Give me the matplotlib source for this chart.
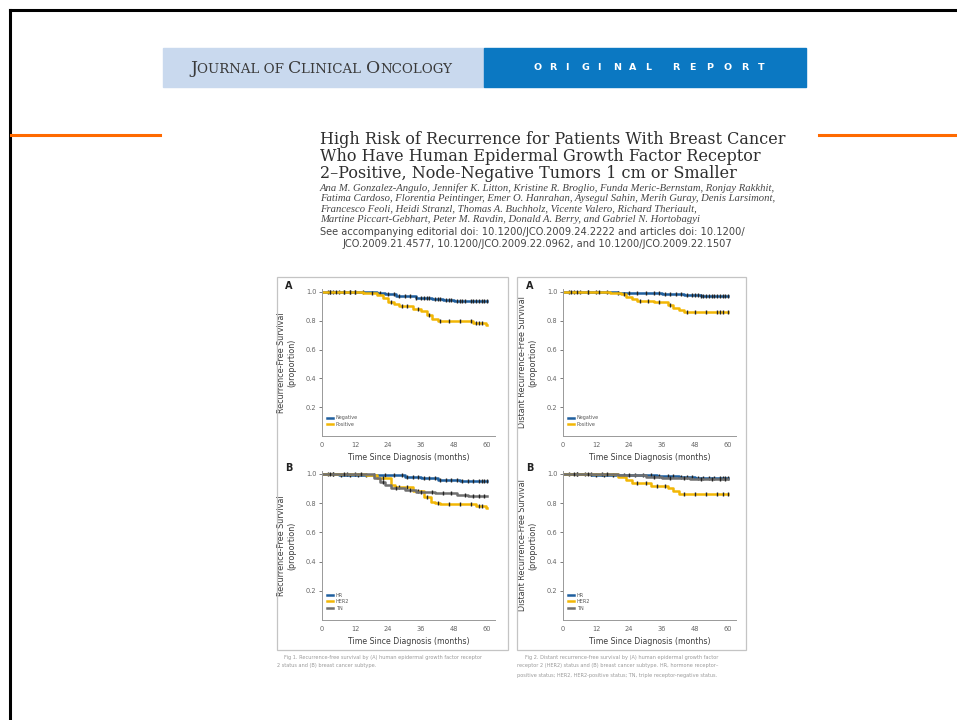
import matplotlib
matplotlib.use('Agg')
import matplotlib.pyplot as plt
import numpy as np
from matplotlib.lines import Line2D
from matplotlib.patches import Rectangle

W, H = 957, 720

# --- Data ---
months_ticks = [0, 12, 24, 36, 48, 60]
surv_ticks = [0.2, 0.4, 0.6, 0.8, 1.0]

# Fig 1A: recurrence-free survival by HER2 status
rfs_neg_t = [0, 20, 23, 27, 31, 34, 36, 40, 44, 48, 53]
rfs_neg_s = [1.0, 0.99, 0.985, 0.975, 0.97, 0.96, 0.955, 0.95, 0.945, 0.94, 0.936]
rfs_neg_c = [2, 3, 4, 6, 8, 10, 12, 15, 21, 24, 26, 28, 30, 32, 34, 36, 37, 38, 39, 41, 42,
             43, 45, 46, 47, 49, 50, 51, 52, 54, 55, 56, 57, 58, 59, 60]
rfs_pos_t = [0, 15, 20, 22, 24, 26, 28, 33, 36, 38, 40, 42, 55, 59.5]
rfs_pos_s = [1.0, 0.99, 0.98, 0.955, 0.93, 0.915, 0.905, 0.88, 0.865, 0.84, 0.815, 0.798, 0.786, 0.772]
rfs_pos_c = [3, 5, 8, 10, 12, 18, 25, 29, 31, 35, 39, 43, 46, 50, 54, 56, 57, 58]

# Fig 2A: distant recurrence-free survival by HER2 status
drfs_neg_t = [0, 20, 28, 36, 44, 50]
drfs_neg_s = [1.0, 0.995, 0.99, 0.985, 0.98, 0.975]
drfs_neg_c = [2, 4, 6, 9, 12, 16, 20, 24, 27, 30, 33, 35, 37, 39, 41, 43, 45, 47, 48, 49,
              50, 51, 52, 53, 54, 55, 56, 57, 58, 59, 60]
drfs_pos_t = [0, 17, 21, 23, 25, 27, 33, 38, 40, 42, 44]
drfs_pos_s = [1.0, 0.995, 0.985, 0.965, 0.95, 0.94, 0.93, 0.91, 0.89, 0.875, 0.862]
drfs_pos_c = [3, 5, 9, 13, 22, 28, 31, 35, 39, 45, 48, 52, 56, 57, 58, 60]

# Fig 1B: recurrence-free survival by subtype
rfs_hr_t = [0, 6, 22, 30, 36, 42, 50]
rfs_hr_s = [1.0, 0.995, 0.99, 0.98, 0.97, 0.96, 0.952]
rfs_hr_c = [2, 4, 7, 10, 13, 16, 19, 23, 26, 29, 31, 33, 35, 37, 39, 41, 43, 45, 47, 49,
            51, 53, 55, 57, 58, 59, 60]
rfs_her2_t = [0, 16, 20, 25, 26.5, 33, 37, 39.5, 41, 43, 56, 59.5]
rfs_her2_s = [1.0, 0.995, 0.97, 0.925, 0.91, 0.885, 0.84, 0.81, 0.80, 0.793, 0.778, 0.768]
rfs_her2_c = [4, 9, 12, 22, 28, 31, 35, 38, 42, 46, 50, 54, 57, 58]
rfs_tn_t = [0, 19, 21, 23, 25, 30, 34, 41, 49, 53]
rfs_tn_s = [1.0, 0.97, 0.945, 0.925, 0.905, 0.89, 0.88, 0.868, 0.858, 0.85]
rfs_tn_c = [3, 8, 14, 22, 27, 32, 36, 40, 44, 47, 52, 55, 57, 59]

# Fig 2B: distant recurrence-free survival by subtype
drfs_hr_t = [0, 10, 24, 34, 42, 48]
drfs_hr_s = [1.0, 0.995, 0.99, 0.983, 0.977, 0.97]
drfs_hr_c = [2, 5, 8, 12, 15, 18, 22, 26, 29, 32, 35, 38, 40, 43, 45, 47, 49, 51, 53, 55,
             57, 58, 59, 60]
drfs_her2_t = [0, 20, 23, 25, 32, 38, 40, 42]
drfs_her2_s = [1.0, 0.982, 0.96, 0.938, 0.92, 0.902, 0.884, 0.864]
drfs_her2_c = [5, 10, 14, 27, 30, 34, 37, 44, 48, 52, 56, 58, 60]
drfs_tn_t = [0, 20, 30, 36, 46]
drfs_tn_s = [1.0, 0.99, 0.982, 0.972, 0.966]
drfs_tn_c = [4, 9, 16, 24, 33, 39, 44, 50, 54, 57, 59]

BLUE = '#1f5f9e'
YELLOW = '#f2b705'
GRAY = '#707070'


def fx(x):
    return x / W


def fy(y):
    return 1 - y / H


def km_panel(fig, left, top_y, bottom_y, curves, labels, letter, ylabel):
    # axes placed by pixel coordinates: x=0 month at `left`, 60 months 165 px right
    px_per_month = 165 / 60
    width = 63 * px_per_month
    h = (bottom_y - top_y) * 1.02
    ax = fig.add_axes([fx(left), fy(bottom_y), width / W, h / H])
    for (t, s, c, col), lab in zip(curves, labels):
        ax.step(t + [60], s + [s[-1]], where='post', color=col, lw=1.8, label=lab)
        idx = np.searchsorted(t, c, side='right') - 1
        ax.plot(c, np.array(s)[idx], ls='none', marker='|', ms=3, mew=1.0, color='#222222')
    ax.set_xlim(0, 63)
    ax.set_ylim(0, 1.02)
    ax.set_xticks(months_ticks)
    ax.set_yticks(surv_ticks)
    ax.set_yticklabels(['%.1f' % v for v in surv_ticks])
    ax.tick_params(labelsize=4.8, colors='#666666', length=2, width=0.6, pad=2)
    ax.tick_params(axis='x', length=0, pad=4)
    for sp in ['top', 'right']:
        ax.spines[sp].set_visible(False)
    for sp in ['left', 'bottom']:
        ax.spines[sp].set_color('#999999')
        ax.spines[sp].set_linewidth(0.7)
    ax.set_xlabel('Time Since Diagnosis (months)', fontsize=5.6, color='#3c3c3c', labelpad=4)
    ax.set_ylabel(ylabel, fontsize=5.8, color='#3c3c3c', labelpad=7)
    leg = ax.legend(loc='lower left', bbox_to_anchor=(0.02, 0.05), fontsize=3.5, frameon=False,
                    handlelength=1.2, handletextpad=0.5, labelspacing=0.3, borderaxespad=0)
    for txt in leg.get_texts():
        txt.set_color('#555555')
    fig.text(fx(left - 37), fy(top_y - 6), letter, fontsize=7, fontweight='bold', color='#222222',
             ha='left', va='center')
    return ax


fig = plt.figure(figsize=(W / 100, H / 100), dpi=100)
fig.patch.set_facecolor('white')
renderer = fig.canvas.get_renderer()

# slide frame and decoration lines
fig.add_artist(Line2D([fx(10), 1], [fy(10), fy(10)], color='black', lw=2.2))
fig.add_artist(Line2D([fx(10), fx(10)], [fy(10), 0], color='black', lw=2.2))
fig.add_artist(Line2D([fx(11), fx(160)], [fy(135), fy(135)], color='#ff6a00', lw=2.2))
fig.add_artist(Line2D([fx(819), 1], [fy(135), fy(135)], color='#ff6a00', lw=2.2))

# journal header
fig.add_artist(Rectangle((fx(163), fy(87)), (484 - 163) / W, 39 / H, color='#c9d9ee'))
fig.add_artist(Rectangle((fx(484), fy(87)), (806 - 484) / W, 39 / H, color='#0b78c2'))

# small caps journal name, laid out piece by piece
pieces = [('J', 12.4), ('OURNAL OF ', 9.6), ('C', 12.4), ('LINICAL ', 9.6), ('O', 12.4), ('NCOLOGY', 9.6)]
xpos = 190
for txt, size in pieces:
    t = fig.text(fx(xpos), fy(73), txt, fontsize=size, family='DejaVu Serif', color='#3a3a3a',
                 ha='left', va='baseline')
    xpos += t.get_window_extent(renderer).width

# spaced-out "ORIGINAL REPORT"
for word, x0, step in [('ORIGINAL', 533, 16.0), ('REPORT', 672, 17.2)]:
    for i, ch in enumerate(word):
        fig.text(fx(x0 + i * step), fy(68), ch, fontsize=6.8, fontweight='bold', color='white',
                 ha='left', va='center')

# article title, authors and doi lines
title_lines = ['High Risk of Recurrence for Patients With Breast Cancer',
               'Who Have Human Epidermal Growth Factor Receptor',
               '2\u2013Positive, Node-Negative Tumors 1 cm or Smaller']
for i, line in enumerate(title_lines):
    fig.text(fx(320), fy(139 + i * 17.5), line, fontsize=11.5, family='DejaVu Serif',
             color='#2e2e2e', ha='left', va='center')

author_lines = ['Ana M. Gonzalez-Angulo, Jennifer K. Litton, Kristine R. Broglio, Funda Meric-Bernstam, Ronjay Rakkhit,',
                'Fatima Cardoso, Florentia Peintinger, Emer O. Hanrahan, Aysegul Sahin, Merih Guray, Denis Larsimont,',
                'Francesco Feoli, Heidi Stranzl, Thomas A. Buchholz, Vicente Valero, Richard Theriault,',
                'Martine Piccart-Gebhart, Peter M. Ravdin, Donald A. Berry, and Gabriel N. Hortobagyi']
for i, line in enumerate(author_lines):
    fig.text(fx(320), fy(188 + i * 10.5), line, fontsize=7.7, family='Liberation Serif',
             style='italic', color='#444444', ha='left', va='center')

fig.text(fx(320), fy(232), 'See accompanying editorial doi: 10.1200/JCO.2009.24.2222 and articles doi: 10.1200/',
         fontsize=7.1, color='#444444', ha='left', va='center')
fig.text(fx(342), fy(244), 'JCO.2009.21.4577, 10.1200/JCO.2009.22.0962, and 10.1200/JCO.2009.22.1507',
         fontsize=7.1, color='#444444', ha='left', va='center')

# figure boxes
for x0, x1 in [(277, 508), (517, 746)]:
    fig.add_artist(Rectangle((fx(x0), fy(650)), (x1 - x0) / W, (650 - 277) / H, fill=False,
                             edgecolor='#c4c4c4', lw=0.9))

km_panel(fig, 322, 292, 436,
         [(rfs_neg_t, rfs_neg_s, rfs_neg_c, BLUE), (rfs_pos_t, rfs_pos_s, rfs_pos_c, YELLOW)],
         ['Negative', 'Positive'], 'A', 'Recurrence-Free Survival\n(proportion)')
km_panel(fig, 322, 474, 620,
         [(rfs_hr_t, rfs_hr_s, rfs_hr_c, BLUE), (rfs_her2_t, rfs_her2_s, rfs_her2_c, YELLOW),
          (rfs_tn_t, rfs_tn_s, rfs_tn_c, GRAY)],
         ['HR', 'HER2', 'TN'], 'B', 'Recurrence-Free Survival\n(proportion)')
km_panel(fig, 563, 292, 436,
         [(drfs_neg_t, drfs_neg_s, drfs_neg_c, BLUE), (drfs_pos_t, drfs_pos_s, drfs_pos_c, YELLOW)],
         ['Negative', 'Positive'], 'A', 'Distant Recurrence-Free Survival\n(proportion)')
km_panel(fig, 563, 474, 620,
         [(drfs_hr_t, drfs_hr_s, drfs_hr_c, BLUE), (drfs_her2_t, drfs_her2_s, drfs_her2_c, YELLOW),
          (drfs_tn_t, drfs_tn_s, drfs_tn_c, GRAY)],
         ['HR', 'HER2', 'TN'], 'B', 'Distant Recurrence-Free Survival\n(proportion)')

# figure captions
cap_kw = dict(fontsize=3.6, color='#9a9a9a', ha='left', va='center')
fig.text(fx(284), fy(658), 'Fig 1. Recurrence-free survival by (A) human epidermal growth factor receptor', **cap_kw)
fig.text(fx(277), fy(666), '2 status and (B) breast cancer subtype.', **cap_kw)
fig.text(fx(525), fy(657), 'Fig 2. Distant recurrence-free survival by (A) human epidermal growth factor', **cap_kw)
fig.text(fx(517), fy(666), 'receptor 2 (HER2) status and (B) breast cancer subtype. HR, hormone receptor\u2013', **cap_kw)
fig.text(fx(517), fy(675), 'positive status; HER2, HER2-positive status; TN, triple receptor-negative status.', **cap_kw)

fig.savefig('out.png', dpi=100)
